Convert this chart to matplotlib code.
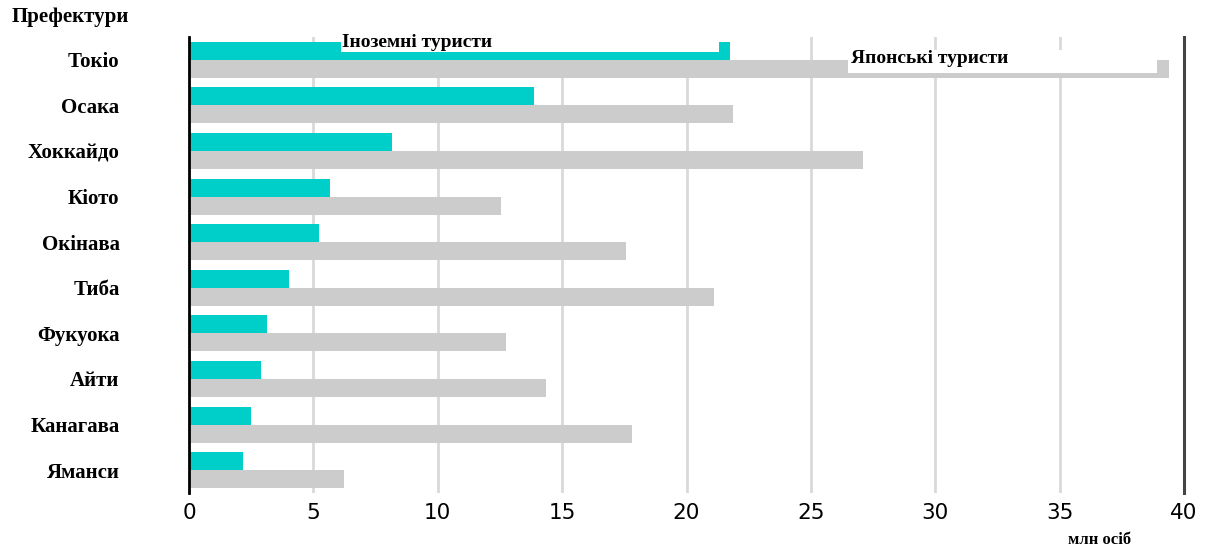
import matplotlib
matplotlib.use("Agg")
import matplotlib.pyplot as plt
from matplotlib.patches import Rectangle

# ---- дані: туристи за префектурами, млн осіб ----
prefectures = ["Токіо", "Осака", "Хоккайдо", "Кіото", "Окінава",
               "Тиба", "Фукуока", "Айти", "Канагава", "Яманси"]
foreign = [21.75, 13.87, 8.16, 5.67, 5.23, 4.02, 3.14, 2.89, 2.49, 2.17]
domestic = [39.4, 21.87, 27.1, 12.54, 17.57, 21.1, 12.74, 14.35, 17.81, 6.23]
x_ticks = [0, 5, 10, 15, 20, 25, 30, 35, 40]

label_foreign = "Іноземні туристи"
label_domestic = "Японські туристи"

TEAL = "#00cec9"
GREY = "#cccccc"
SERIF = "Liberation Serif"
SANS = "DejaVu Sans"

W, H = 1210, 551
fig = plt.figure(figsize=(W / 100, H / 100), dpi=100)
ax = fig.add_axes([189 / W, 1 - 493 / H, (1184 - 189) / W, (493 - 37) / H])

n = len(prefectures)
ypos = list(range(n))
bh = 0.395
off = bh / 2

ax.barh([y - off for y in ypos], foreign, height=bh, color=TEAL, zorder=2)
ax.barh([y + off for y in ypos], domestic, height=bh, color=GREY, zorder=2)

ax.set_xlim(0, 40)
ax.set_ylim(n - 0.5, -0.5)

ax.set_xticks(x_ticks)
ax.set_xticklabels([str(t) for t in x_ticks], fontfamily=SANS, fontsize=15.5)
ax.set_yticks(ypos)
ax.set_yticklabels(prefectures, fontfamily=SERIF, fontweight="bold", fontsize=15)
ax.tick_params(axis="x", length=0, pad=7)
ax.tick_params(axis="y", length=0, pad=50)

ax.grid(axis="x", color="#d9d9d9", linewidth=2)
ax.set_axisbelow(True)

for side in ("top", "bottom"):
    ax.spines[side].set_visible(False)
ax.spines["left"].set_color("black")
ax.spines["left"].set_linewidth(2)
ax.spines["right"].set_color("#444444")
ax.spines["right"].set_linewidth(2.2)

# підписи серій прямо на смугах Токіо, на білих плашках
x_f = 6.1
ax.add_patch(Rectangle((x_f, -0.5), foreign[0] - 0.45 - x_f, 0.33,
                       facecolor="white", edgecolor="none", zorder=3))
ax.text(x_f + 0.05, -0.37, label_foreign, fontfamily=SERIF, fontweight="bold",
        fontsize=14, ha="left", va="center", zorder=4)

x_d = 26.5
ax.add_patch(Rectangle((x_d, -0.22), domestic[0] - 0.5 - x_d, 0.5,
                       facecolor="white", edgecolor="none", zorder=3))
ax.text(x_d + 0.1, -0.03, label_domestic, fontfamily=SERIF, fontweight="bold",
        fontsize=14, ha="left", va="center", zorder=4)

fig.text(12 / W, 1 - 17 / H, "Префектури", fontfamily=SERIF, fontweight="bold",
         fontsize=15, ha="left", va="center")
fig.text(1100 / W, 1 - 540 / H, "млн осіб", fontfamily=SERIF, fontweight="bold",
         fontsize=12, ha="center", va="center")

fig.savefig("out.png", dpi=100, facecolor="white")
